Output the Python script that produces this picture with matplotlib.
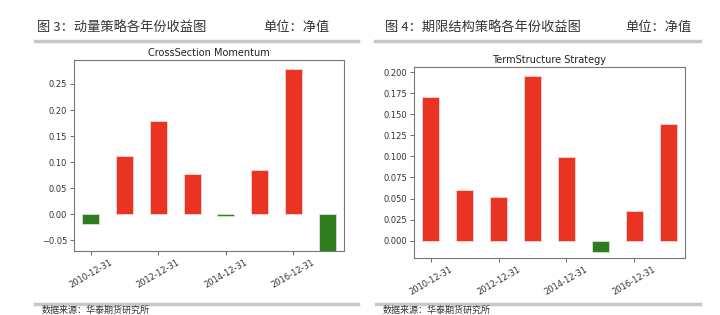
import matplotlib
matplotlib.use("Agg")
import matplotlib.pyplot as plt
import numpy as np
from matplotlib.lines import Line2D

dates = ["2010-12-31", "2011-12-31", "2012-12-31", "2013-12-31",
         "2014-12-31", "2015-12-31", "2016-12-31", "2017-12-31"]
cs_values = [-0.018, 0.112, 0.178, 0.077, -0.004, 0.085, 0.278, -0.085]
ts_values = [0.170, 0.060, 0.052, 0.195, 0.099, -0.013, 0.035, 0.138]
cs_ticks = [-0.05, 0.00, 0.05, 0.10, 0.15, 0.20, 0.25]
ts_ticks = [0.000, 0.025, 0.050, 0.075, 0.100, 0.125, 0.150, 0.175, 0.200]

RED = "#e93323"
GREEN = "#2f7d1f"
W, H = 720, 315
fig = plt.figure(figsize=(W / 100, H / 100), dpi=100)
fig.patch.set_facecolor("white")
cjk = ["Noto Sans CJK SC", "DejaVu Sans"]

def px_axes(l, t, r, b):
    return fig.add_axes([l / W, 1 - b / H, (r - l) / W, (b - t) / H])

def panel(ax, vals, yt, ylim, fmt, title):
    x = np.arange(len(vals))
    cols = [RED if v >= 0 else GREEN for v in vals]
    edges = ["#fbd6d0" if v >= 0 else "#cfe8c8" for v in vals]
    ax.bar(x, vals, width=0.5, color=cols, edgecolor=edges, linewidth=0.6)
    ax.set_xlim(-0.5, len(vals) - 0.5)
    ax.set_ylim(*ylim)
    ax.set_yticks(yt)
    ax.set_yticklabels([fmt.format(v).replace("-", "\u2212") for v in yt], fontsize=6, color="#333333")
    ax.set_xticks(x[::2])
    ax.set_xticklabels([dates[i] for i in x[::2]], rotation=30, fontsize=6,
                       color="#333333", ha="center")
    ax.set_title(title, fontsize=7, color="#222222", pad=3)
    for s in ax.spines.values():
        s.set_color("#777777")
        s.set_linewidth(0.8)
    ax.tick_params(length=3, width=0.6, color="#555555", pad=2)

ax1 = px_axes(74, 60, 344, 251)
panel(ax1, cs_values, cs_ticks, (-0.0705, 0.296), "{:.2f}", "CrossSection Momentum")
ax2 = px_axes(414, 67, 685, 258)
panel(ax2, ts_values, ts_ticks, (-0.0205, 0.206), "{:.3f}", "TermStructure Strategy")

# headers
fig.text(37 / W, 1 - 27 / H, "图 3：动量策略各年份收益图", family=cjk, fontsize=9.5,
         color="#333333", va="center", ha="left")
fig.text(330 / W, 1 - 27 / H, "单位：净值", family=cjk, fontsize=9.5,
         color="#333333", va="center", ha="right")
fig.text(385 / W, 1 - 27 / H, "图 4：期限结构策略各年份收益图", family=cjk, fontsize=9.5,
         color="#333333", va="center", ha="left")
fig.text(692 / W, 1 - 27 / H, "单位：净值", family=cjk, fontsize=9.5,
         color="#333333", va="center", ha="right")

for (x0, x1, y) in [(35, 358, 41), (375, 700, 41), (35, 358, 304), (376, 700, 304)]:
    fig.add_artist(Line2D([x0 / W, x1 / W], [1 - y / H, 1 - y / H], color="#c8c8c8", lw=2.5))

fig.text(42 / W, 1 - 310.5 / H, "数据来源：华泰期货研究所", family=cjk, fontsize=6.5,
         color="#333333", va="center", ha="left")
fig.text(383 / W, 1 - 310.5 / H, "数据来源：华泰期货研究所", family=cjk, fontsize=6.5,
         color="#333333", va="center", ha="left")

fig.savefig("out.png", dpi=100, facecolor="white")
